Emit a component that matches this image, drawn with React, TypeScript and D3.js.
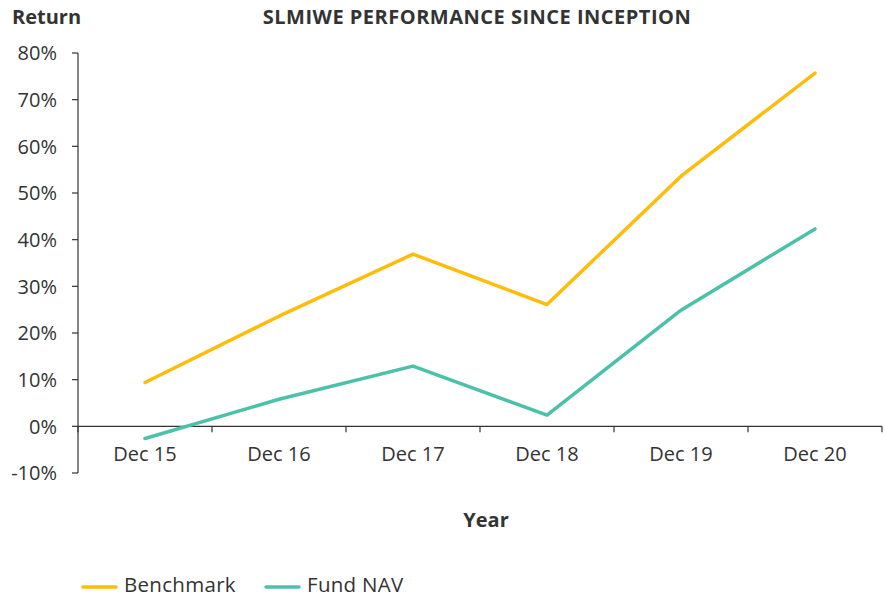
import React from "react";
import * as d3 from "d3";

const categories = ["Dec 15", "Dec 16", "Dec 17", "Dec 18", "Dec 19", "Dec 20"];
const benchmark = [9.4, 23.6, 36.9, 26.1, 53.6, 75.7];
const fundNav = [-2.6, 5.8, 12.9, 2.4, 24.9, 42.3];
const yTicks = [-10, 0, 10, 20, 30, 40, 50, 60, 70, 80];

const series = [
    {name: "Benchmark", values: benchmark, color: "#FFBC0A"},
    {name: "Fund NAV", values: fundNav, color: "#4CC1A9"},
];

const W = 885;
const H = 598;
const left = 78;
const right = 882;
const top = 53;
const bottom = 473;
const font = "'Open Sans', 'Noto Sans', sans-serif";
const ink = "#333";

export default function App() {
    const x = d3.scaleBand().domain(categories).range([left, right]);
    const y = d3.scaleLinear().domain([-10, 80]).range([bottom, top]);

    const line = d3.line<number>()
        .x((d, i) => x(categories[i])! + x.bandwidth() / 2)
        .y(d => y(d));

    const boundaries = categories.map(c => x(c)!).concat([right]);

    return (
        <svg width={W} height={H} style={{position: "absolute", left: 0, top: 0}} fontFamily={font}>
            <text x={12} y={24} fontSize={20} fontWeight={700} fill={ink}>Return</text>
            <text x={477} y={24} fontSize={20} fontWeight={700} fill={ink} textAnchor="middle" letterSpacing={0.5}>
                SLMIWE PERFORMANCE SINCE INCEPTION
            </text>

            {/* y axis */}
            <line x1={left} x2={left} y1={top} y2={bottom} stroke={ink} strokeWidth={1.2}/>
            {yTicks.map(t => (
                <g key={t}>
                    <line x1={left - 6} x2={left} y1={y(t)} y2={y(t)} stroke={ink} strokeWidth={1.2}/>
                    <text x={57} y={y(t)} dy="0.36em" fontSize={20} fill={ink} textAnchor="end">
                        {t < 0 ? "-" + Math.abs(t) : t}%
                    </text>
                </g>
            ))}

            {/* x axis at zero */}
            <line x1={left} x2={right} y1={y(0)} y2={y(0)} stroke={ink} strokeWidth={1.2}/>
            {boundaries.map((b, i) => (
                <line key={i} x1={b} x2={b} y1={y(0)} y2={y(0) + 6} stroke={ink} strokeWidth={1.2}/>
            ))}
            {categories.map(c => (
                <text key={c} x={x(c)! + x.bandwidth() / 2} y={461} fontSize={20} fill={ink} textAnchor="middle">
                    {c}
                </text>
            ))}
            <text x={486} y={527} fontSize={20} fontWeight={700} fill={ink} textAnchor="middle">Year</text>

            {series.map(s => (
                <path key={s.name} d={line(s.values)!} fill="none" stroke={s.color}
                      strokeWidth={3.5} strokeLinecap="round" strokeLinejoin="round"/>
            ))}

            {/* legend */}
            {series.map((s, i) => {
                const lx = 83 + i * 183;
                return (
                    <g key={s.name}>
                        <line x1={lx} x2={lx + 33} y1={587} y2={587} stroke={s.color} strokeWidth={3.5} strokeLinecap="round"/>
                        <text x={lx + 41} y={592} fontSize={20.5} fill={ink} letterSpacing={0.3}>{s.name}</text>
                    </g>
                );
            })}
        </svg>
    );
}
